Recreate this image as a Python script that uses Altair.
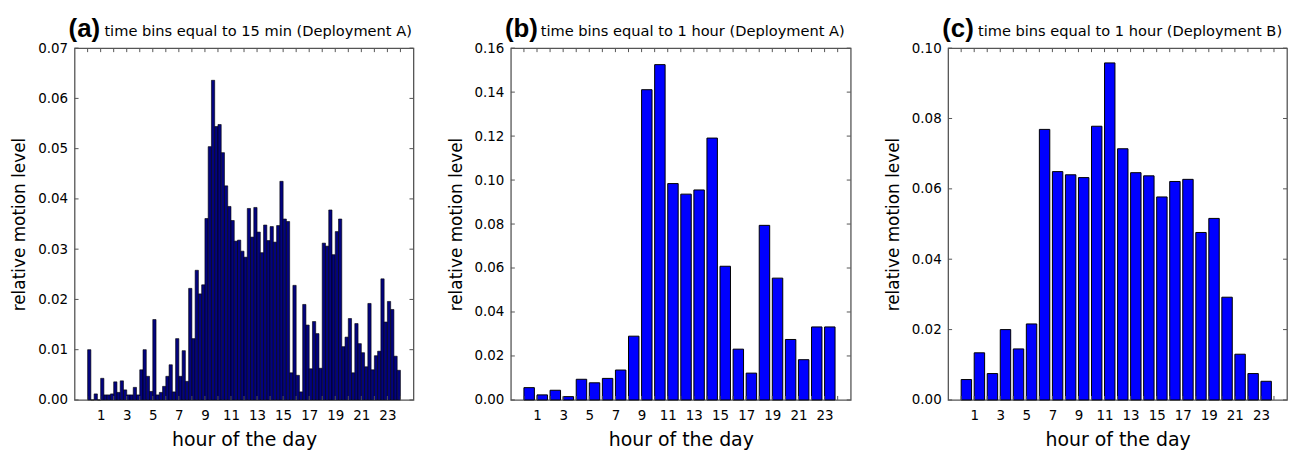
import altair as alt
import pandas as pd

# ---- data ----
hour_ticks = list(range(0, 25))
odd_hours = list(range(1, 24, 2))

# (a) 15-minute bins (96 bins, 0.25 h each)
a_vals = [
    0.0100, 0.0000, 0.0012, 0.0000, 0.0043, 0.0010, 0.0010, 0.0012,
    0.0036, 0.0015, 0.0038, 0.0020, 0.0010, 0.0010, 0.0025, 0.0010,
    0.0060, 0.0100, 0.0047, 0.0017, 0.0160, 0.0010, 0.0015, 0.0027,
    0.0047, 0.0070, 0.0016, 0.0122, 0.0047, 0.0098, 0.0037, 0.0222,
    0.0122, 0.0258, 0.0211, 0.0229, 0.0361, 0.0504, 0.0636, 0.0544,
    0.0548, 0.0492, 0.0426, 0.0385, 0.0357, 0.0316, 0.0318, 0.0296,
    0.0284, 0.0381, 0.0324, 0.0383, 0.0334, 0.0293, 0.0348, 0.0317,
    0.0345, 0.0314, 0.0347, 0.0435, 0.0360, 0.0355, 0.0054, 0.0228,
    0.0049, 0.0016, 0.0190, 0.0149, 0.0062, 0.0156, 0.0132, 0.0063,
    0.0312, 0.0306, 0.0378, 0.0289, 0.0335, 0.0360, 0.0106, 0.0125,
    0.0162, 0.0054, 0.0152, 0.0112, 0.0094, 0.0066, 0.0192, 0.0060,
    0.0088, 0.0097, 0.0241, 0.0155, 0.0196, 0.0180, 0.0087, 0.0059,
]
a_bin = 0.25

# (b) 1-hour bins, Deployment A
b_vals = [0.0056, 0.0023, 0.0044, 0.0015, 0.0094, 0.0078, 0.0098, 0.0136,
          0.0290, 0.1411, 0.1525, 0.0984, 0.0936, 0.0955, 0.1191, 0.0608,
          0.0231, 0.0122, 0.0794, 0.0554, 0.0275, 0.0183, 0.0332, 0.0332]

# (c) 1-hour bins, Deployment B
c_vals = [0.0058, 0.0134, 0.0075, 0.0200, 0.0145, 0.0216, 0.0769, 0.0649,
          0.0640, 0.0632, 0.0778, 0.0958, 0.0714, 0.0646, 0.0637, 0.0577,
          0.0621, 0.0627, 0.0476, 0.0516, 0.0292, 0.0130, 0.0075, 0.0053]
hour_bin = 1.0
hour_bar_width = 0.8

a_yticks = [0.00, 0.01, 0.02, 0.03, 0.04, 0.05, 0.06, 0.07]
b_yticks = [0.00, 0.02, 0.04, 0.06, 0.08, 0.10, 0.12, 0.14, 0.16]
c_yticks = [0.00, 0.02, 0.04, 0.06, 0.08, 0.10]

letters = ["(a)", "(b)", "(c)"]
descs = ["time bins equal to 15 min (Deployment A)",
         "time bins equal to 1 hour (Deployment A)",
         "time bins equal to 1 hour (Deployment B)"]

H = 354
TICK = "#555555"


def panel(vals, step, bw, yticks, fill, sw, letter, desc, W):
    starts = [i * step for i in range(len(vals))]
    df = pd.DataFrame({"start": starts, "end": [s + bw for s in starts],
                       "v": vals, "zero": [0.0] * len(vals)})
    ymax = yticks[-1]
    xs = alt.Scale(domain=[-1, 25], nice=False, zero=False)
    ys = alt.Scale(domain=[0, ymax], nice=False, zero=True)
    xaxis = alt.Axis(values=odd_hours, tickSize=0, domain=False, grid=False,
                     labelFontSize=13.5, labelPadding=9, labelFlush=False,
                     labelOverlap=False, labelSeparation=0,
                     title="hour of the day", titleFontSize=19,
                     titleFontWeight="normal", titlePadding=8)
    yaxis = alt.Axis(values=yticks, format=".2f", tickSize=0, domain=False,
                     grid=False, labelFontSize=13.5, labelPadding=7,
                     labelOverlap=False, labelFlush=False,
                     title="relative motion level", titleFontSize=17,
                     titleFontWeight="normal", titlePadding=9)

    bars = alt.Chart(df).mark_bar(fill=fill, stroke="black", strokeWidth=sw).encode(
        x=alt.X("start:Q", scale=xs, axis=xaxis),
        x2="end:Q",
        y=alt.Y("v:Q", scale=ys, axis=yaxis),
        y2="zero:Q",
    )
    ydf = pd.DataFrame({"v": yticks})
    hdf = pd.DataFrame({"start": hour_ticks})
    left = alt.Chart(ydf).mark_rule(color=TICK, strokeWidth=1).encode(
        y=alt.Y("v:Q", scale=ys, axis=yaxis), x=alt.value(0), x2=alt.value(4))
    right = alt.Chart(ydf).mark_rule(color=TICK, strokeWidth=1).encode(
        y=alt.Y("v:Q", scale=ys, axis=yaxis), x=alt.value(W - 4), x2=alt.value(W))
    top = alt.Chart(hdf).mark_rule(color=TICK, strokeWidth=1).encode(
        x=alt.X("start:Q", scale=xs, axis=xaxis), y=alt.value(0), y2=alt.value(4))
    bottom = alt.Chart(hdf).mark_rule(color=TICK, strokeWidth=1).encode(
        x=alt.X("start:Q", scale=xs, axis=xaxis), y=alt.value(H - 4), y2=alt.value(H))
    lab = alt.Chart(pd.DataFrame({"t": [letter]})).mark_text(
        font="Liberation Sans", fontWeight="bold", fontSize=26, align="left",
        baseline="alphabetic", color="black").encode(
        text="t:N", x=alt.value(-6), y=alt.value(-11))
    dsc = alt.Chart(pd.DataFrame({"t": [desc]})).mark_text(
        font="DejaVu Sans", fontSize=14.7, align="left", baseline="alphabetic",
        color="black").encode(text="t:N", x=alt.value(30), y=alt.value(-12))
    return alt.layer(bars, left, right, top, bottom, lab, dsc).properties(width=W, height=H)


pa = panel(a_vals, a_bin, a_bin, a_yticks, "#03037e", 0.6, letters[0], descs[0], 341)
pb = panel(b_vals, hour_bin, hour_bar_width, b_yticks, "#0000ff", 1.0, letters[1], descs[1], 342)
pc = panel(c_vals, hour_bin, hour_bar_width, c_yticks, "#0000ff", 1.0, letters[2], descs[2], 341)

chart = alt.hconcat(pa, pb, pc, spacing=98, bounds="flush").properties(
    padding={"left": 2, "top": 6, "right": 0, "bottom": 0}
).configure(
    background="white"
).configure_view(
    stroke="#555555", strokeWidth=1.3
).configure_axis(
    labelFont="DejaVu Sans", titleFont="DejaVu Sans",
    labelColor="black", titleColor="black",
    labelOverlap=False,
)

chart.save("out.html", embed_options={"renderer": "svg", "actions": False})
